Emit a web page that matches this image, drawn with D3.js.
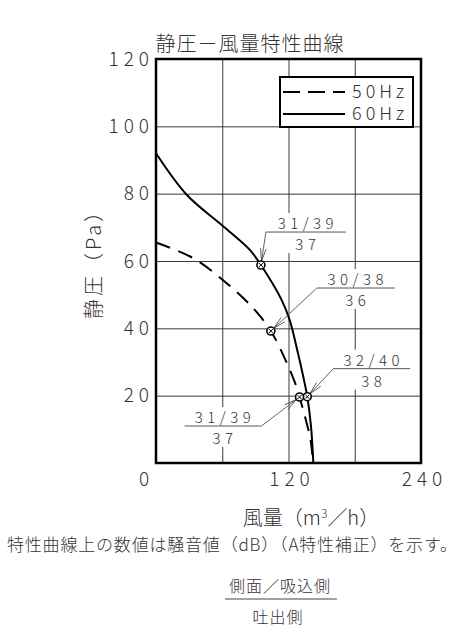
<!DOCTYPE html>
<html>
<head>
<meta charset="utf-8">
<script src="https://cdn.jsdelivr.net/npm/d3@7"></script>
<style>
  body { margin: 0; background: #fff; }
  svg { display: block; }
</style>
</head>
<body>
<div id="container"></div>
<script>
// air flow (m3/h) and static pressure (Pa)
let flow50 = [0, 34, 64, 88, 104, 117, 126, 130, 136.5, 139.5, 142.5];
let pres50 = [65.5, 60.8, 53.4, 46, 39.2, 30.8, 23.7, 19.6, 11.8, 7.8, 0];
let flow60 = [0, 28, 59.5, 85, 95, 113.5, 121, 128.6, 133.4, 137, 140.4, 142.5];
let pres60 = [92, 79.6, 70.7, 63.3, 58.8, 48.6, 42.5, 32.6, 25.6, 19.7, 10.8, 0];

// noise readings on the curves: side/inlet over outlet (dB)
let noiseSeries = ["60Hz", "50Hz", "60Hz", "50Hz"];
let noiseFlow = [95, 104, 137, 130];
let noisePres = [58.8, 39.2, 19.7, 19.6];
let noiseTop = ["31/39", "30/38", "32/40", "31/39"];
let noiseBottom = ["37", "36", "38", "37"];

let xTicks = [0, 120, 240];
let xGrid = [60, 120, 180];
let yTicks = [20, 40, 60, 80, 100, 120];
let yGrid = [20, 40, 60, 80, 100];
let legendNames = ["50Hz", "60Hz"];

let w = 465;
let h = 633;
let font = "'Noto Sans CJK JP', 'DejaVu Sans', sans-serif";
let ink = "#333";

let viz = d3.select("#container")
  .append("svg")
    .attr("width", w)
    .attr("height", h)
    .style("font-family", font)
    .style("font-weight", 300)
;

let pLeft = 156, pRight = 421, pTop = 59, pBottom = 463;
let xScale = d3.scaleLinear().domain([0, 240]).range([pLeft, pRight]);
let yScale = d3.scaleLinear().domain([0, 120]).range([pBottom, pTop]);

// grid lines
let xGridGroup = viz.append("g")
    .attr("transform", "translate(0," + pBottom + ")")
    .call(d3.axisBottom(xScale).tickValues(xGrid).tickSize(-(pBottom - pTop)).tickFormat(""));
let yGridGroup = viz.append("g")
    .attr("transform", "translate(" + pLeft + ",0)")
    .call(d3.axisLeft(yScale).tickValues(yGrid).tickSize(-(pRight - pLeft)).tickFormat(""));
[xGridGroup, yGridGroup].forEach(function(g){
  g.select(".domain").remove();
  g.selectAll(".tick line").attr("stroke", "#3a3a3a").attr("stroke-width", 1);
});

// tick labels
let xAxisGroup = viz.append("g")
    .attr("transform", "translate(0," + pBottom + ")")
    .call(d3.axisBottom(xScale).tickValues(xTicks).tickSize(0).tickPadding(10));
let yAxisGroup = viz.append("g")
    .attr("transform", "translate(" + pLeft + ",0)")
    .call(d3.axisLeft(yScale).tickValues(yTicks).tickSize(0).tickPadding(2));
[xAxisGroup, yAxisGroup].forEach(function(g){
  g.select(".domain").remove();
  g.attr("font-family", font).attr("font-size", 19);
  g.selectAll("text").attr("fill", ink).style("letter-spacing", "5px");
});
xAxisGroup.selectAll("text").attr("dx", function(d){ return d === 0 ? -10 : 3; });

// curves
let lineMaker = d3.line()
  .x(d => xScale(d[0]))
  .y(d => yScale(d[1]))
  .curve(d3.curveCatmullRom.alpha(0.5));

let series = {
  "50Hz": d3.zip(flow50, pres50),
  "60Hz": d3.zip(flow60, pres60)
};
let dashes = { "50Hz": "15,9", "60Hz": null };

viz.append("g").selectAll("path")
  .data(legendNames)
  .enter()
  .append("path")
    .attr("d", d => lineMaker(series[d]))
    .attr("fill", "none")
    .attr("stroke", "#000")
    .attr("stroke-width", 2)
    .attr("stroke-dasharray", d => dashes[d])
;

// noise labels: where the underline sits relative to the point
let labelLayout = [
  { dx: 5, dy: -33, len: 80 },
  { dx: 46, dy: -43, len: 78 },
  { dx: 26, dy: -28, len: 77 },
  { dx: -38, dy: 29, len: -77 }
];

let noise = noiseFlow.map(function(f, i){
  return {
    series: noiseSeries[i],
    x: xScale(f),
    y: yScale(noisePres[i]),
    top: noiseTop[i],
    bottom: noiseBottom[i],
    lay: labelLayout[i]
  };
});

let labelGroup = viz.append("g");
noise.forEach(function(n){
  let ax = n.x + n.lay.dx, ay = n.y + n.lay.dy;
  let x0 = Math.min(ax, ax + n.lay.len), x1 = Math.max(ax, ax + n.lay.len);
  let cx = (x0 + x1) / 2;
  let g = labelGroup.append("g");
  // white patch so the grid does not run through the text
  g.append("rect")
    .attr("x", x0 + 2).attr("y", ay - 19)
    .attr("width", x1 - x0 - 4).attr("height", 40)
    .attr("fill", "#fff");
  g.append("line")
    .attr("x1", x0).attr("x2", x1).attr("y1", ay).attr("y2", ay)
    .attr("stroke", "#555").attr("stroke-width", 1);
  g.append("line")
    .attr("x1", ax).attr("y1", ay).attr("x2", n.x).attr("y2", n.y)
    .attr("stroke", "#555").attr("stroke-width", 0.9);
  // open arrow head at the point
  let ang = Math.atan2(ay - n.y, ax - n.x);
  let tipX = n.x + 4 * Math.cos(ang), tipY = n.y + 4 * Math.sin(ang);
  let len = 13, spread = 0.22;
  let pA = [tipX + len * Math.cos(ang + spread), tipY + len * Math.sin(ang + spread)];
  let pB = [tipX + len * Math.cos(ang - spread), tipY + len * Math.sin(ang - spread)];
  g.append("path")
    .attr("d", "M" + pA + "L" + [tipX, tipY] + "L" + pB)
    .attr("fill", "none").attr("stroke", "#333").attr("stroke-width", 0.8);
  g.append("text")
    .attr("x", cx + 2).attr("y", ay - 3)
    .attr("text-anchor", "middle")
    .attr("font-size", 15).attr("fill", ink)
    .style("letter-spacing", "4.5px")
    .text(n.top);
  g.append("text")
    .attr("x", cx + 2).attr("y", ay + 18)
    .attr("text-anchor", "middle")
    .attr("font-size", 15).attr("fill", ink)
    .style("letter-spacing", "4.5px")
    .text(n.bottom);
});

// point markers
let markers = viz.append("g").selectAll("g")
  .data(noise)
  .enter()
  .append("g")
    .attr("transform", d => "translate(" + d.x + "," + d.y + ")");
markers.append("circle")
  .attr("r", 4).attr("fill", "#fff")
  .attr("stroke", "#000").attr("stroke-width", 1.6);
markers.append("path")
  .attr("d", "M-2,-2L2,2M-2,2L2,-2")
  .attr("stroke", "#000").attr("stroke-width", 1);

// legend
let legend = viz.append("g");
legend.append("rect")
  .attr("x", 280).attr("y", 77).attr("width", 133).attr("height", 50)
  .attr("fill", "#fff").attr("stroke", "#000").attr("stroke-width", 2);
let legendRows = legend.selectAll(".row")
  .data(legendNames)
  .enter()
  .append("g")
    .attr("class", "row")
    .attr("transform", (d, i) => "translate(0," + (92 + i * 22) + ")");
legendRows.append("line")
  .attr("x1", 283).attr("x2", 345)
  .attr("stroke", "#000").attr("stroke-width", 2)
  .attr("stroke-dasharray", d => dashes[d] ? "17,8" : null);
legendRows.append("text")
  .attr("x", 352).attr("dy", "0.35em")
  .attr("font-size", 18).attr("fill", ink)
  .style("letter-spacing", "4px")
  .text(d => d);

// plot frame
viz.append("rect")
  .attr("x", pLeft).attr("y", pTop)
  .attr("width", pRight - pLeft).attr("height", pBottom - pTop)
  .attr("fill", "none").attr("stroke", "#000").attr("stroke-width", 2.5);

// titles
viz.append("text")
  .attr("x", 250).attr("y", 51)
  .attr("text-anchor", "middle")
  .attr("font-size", 20).attr("fill", ink)
  .style("letter-spacing", "1px")
  .text("静圧－風量特性曲線");

viz.append("text")
  .attr("transform", "translate(101,259) rotate(-90)")
  .attr("text-anchor", "middle")
  .attr("font-size", 20).attr("fill", ink)
  .style("letter-spacing", "3px")
  .text("静圧（Pa）");

viz.append("text")
  .attr("x", 311).attr("y", 525)
  .attr("text-anchor", "middle")
  .attr("font-size", 20).attr("fill", ink)
  .html("風量（m<tspan dy='-7' font-size='12'>3</tspan><tspan dy='7'>／h）</tspan>");

// note under the chart
viz.append("text")
  .attr("x", 7).attr("y", 551)
  .attr("textLength", 450).attr("lengthAdjust", "spacing")
  .attr("font-size", 17).attr("fill", ink)
  .text("特性曲線上の数値は騒音値（dB）（A特性補正）を示す。");
viz.append("text")
  .attr("x", 280).attr("y", 592)
  .attr("text-anchor", "middle")
  .attr("font-size", 16).attr("fill", ink)
  .style("letter-spacing", "1px")
  .text("側面／吸込側");
viz.append("line")
  .attr("x1", 225).attr("x2", 337).attr("y1", 599).attr("y2", 599)
  .attr("stroke", "#444").attr("stroke-width", 1);
viz.append("text")
  .attr("x", 278).attr("y", 623)
  .attr("text-anchor", "middle")
  .attr("font-size", 16).attr("fill", ink)
  .style("letter-spacing", "1px")
  .text("吐出側");
</script>
</body>
</html>
